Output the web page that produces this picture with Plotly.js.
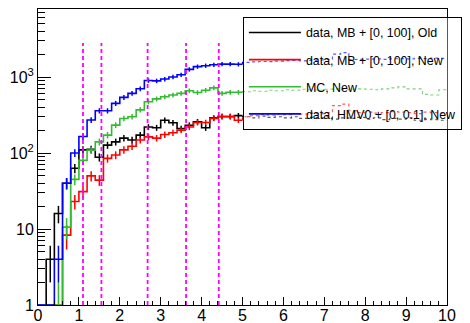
<!DOCTYPE html>
<html><head><meta charset="utf-8">
<script src="https://cdn.plot.ly/plotly-3.0.1.min.js"></script>
<style>html,body{margin:0;padding:0;background:#fff}#chart{width:470px;height:323px}</style>
</head><body><div id="chart"></div>
<script>
// histogram binning: 50 bins of width 0.2 from 0 to 10
const binStart = 0;
const binWidth = 0.2;
const seriesNames = [
  "data, MB + [0, 100], Old",
  "data, MB + [0, 100], New",
  "MC, New",
  "data, HMV0 + [0, 0.1], New"
];
const oldMB = [0,4,16,40,63,110,112,88,127,140,157,148,172,220,215,270,250,210,232,258,215,290,300,300,310,
  300,290,305,295,300,290,300,285,295,290,300,280,290,285,295,280,290,275,285,280,290,270,280,275,270];
const newMB = [0,0,0,8.3,23,31,50,44,85,94,110,123,148,163,157,175,185,200,220,252,252,286,305,305,270,
  300,310,320,315,325,320,330,325,335,330,340,420,440,360,340,345,335,340,350,345,340,330,345,340,335];
const mcNew = [0,0,1,10.6,45,80,109,140,172,233,285,300,370,473,515,550,580,610,660,625,670,720,610,630,630,
  640,660,650,670,660,680,670,690,680,670,690,700,680,690,700,690,680,700,720,740,700,700,590,580,680];
const hmv0New = [0,0,4,40,100,165,272,360,360,450,540,610,700,900,890,940,1000,1070,1260,1370,1410,1450,1480,1480,1470,
  1560,1580,1600,1590,1620,1640,1650,1630,1660,1680,1700,2000,2100,1700,1710,1720,1730,1710,1740,1750,1730,1760,1750,1770,1760];
const seriesColors = ["#000000", "#ff0000", "#33bb33", "#0000ff"];
const cutLines = [1.1, 1.55, 2.68, 3.62, 4.42];
const cutLineTop = 2800;
const legendStartX = 5.0; // region under the legend box drawn dotted
const yTickVals = [1, 10, 100, 1000];
const yTickText = ["1", "10", "10<sup>2</sup>", "10<sup>3</sup>"];

const allSeries = [oldMB, newMB, mcNew, hmv0New];
const nBins = oldMB.length;
const edge = i => +(binStart + i * binWidth).toFixed(6);
const shown = v => Math.max(v, 1);   // empty bins are drawn on the axis floor
const splitBin = Math.round((legendStartX - binStart) / binWidth);

const traces = [];
allSeries.forEach((vals, s) => {
  const col = seriesColors[s];
  const xs = [], ys = [];
  for (let i = 0; i < splitBin; i++) { xs.push(edge(i)); ys.push(shown(vals[i])); }
  xs.push(edge(splitBin)); ys.push(shown(vals[splitBin - 1]));
  traces.push({x: xs, y: ys, type: "scatter", mode: "lines", line: {shape: "hv", color: col, width: 1.6},
    name: seriesNames[s], legendgroup: "g" + s, hoverinfo: "skip"});
  const cx = [], cy = [], ce = [];
  for (let i = 0; i < splitBin; i++) {
    const v = vals[i];
    cx.push(edge(i) + binWidth / 2);
    cy.push(v > 0 ? v : null);
    ce.push(v > 0 ? Math.sqrt(v + Math.pow(0.06 * v, 2)) : 0);
  }
  traces.push({x: cx, y: cy, type: "scatter", mode: "markers", marker: {size: 1, color: "rgba(0,0,0,0)"},
    error_y: {type: "data", array: ce, color: col, thickness: 1.5, width: 0},
    showlegend: false, hoverinfo: "skip"});
  const dx = [edge(splitBin)], dy = [shown(vals[splitBin - 1])];
  for (let i = splitBin; i < nBins; i++) { dx.push(edge(i)); dy.push(shown(vals[i])); }
  dx.push(edge(nBins)); dy.push(shown(vals[nBins - 1]));
  traces.push({x: dx, y: dy, type: "scatter", mode: "lines", line: {shape: "hv", color: col, width: 1.2, dash: "dot"},
    showlegend: false, hoverinfo: "skip"});
});
cutLines.forEach(c => {
  traces.push({x: [c, c], y: [1, cutLineTop], type: "scatter", mode: "lines",
    line: {color: "#ff00ff", width: 1.8, dash: "4px,3px"}, showlegend: false, hoverinfo: "skip"});
});

const yMinor = [];
for (let d = 1; d <= 1000; d *= 10) for (let k = 2; k <= 9; k++) yMinor.push(k * d);

const layout = {
  width: 470, height: 323,
  margin: {l: 38, r: 23, t: 9, b: 18, pad: 0, autoexpand: false},
  paper_bgcolor: "#ffffff", plot_bgcolor: "#ffffff",
  font: {family: "Liberation Sans, Arial, sans-serif", color: "#000"},
  showlegend: true,
  legend: {x: 0.501, y: 0.973, xanchor: "left", yanchor: "top",
    bgcolor: "rgba(255,255,255,0.35)", bordercolor: "#000", borderwidth: 1,
    font: {size: 12.4, family: "Liberation Sans, Arial, sans-serif"},
    itemwidth: 52, tracegroupgap: 8, traceorder: "grouped",
    entrywidth: 240, entrywidthmode: "pixels"},
  xaxis: {type: "linear", range: [0, 10], showgrid: false, zeroline: false,
    showline: true, linecolor: "#000", linewidth: 1, mirror: true,
    ticks: "inside", ticklen: 8, tickcolor: "#000", tickwidth: 1, dtick: 1, tick0: 0,
    ticklabelstandoff: -4, automargin: false,
    minor: {ticks: "inside", ticklen: 4, dtick: 0.2, tick0: 0, tickcolor: "#000", showgrid: false},
    tickfont: {size: 16}},
  yaxis: {type: "log", range: [0, 3.895], showgrid: false, zeroline: false,
    showline: true, linecolor: "#000", linewidth: 1, mirror: true, automargin: false,
    ticks: "inside", ticklen: 13, tickcolor: "#000", tickwidth: 1,
    tickmode: "array", tickvals: yTickVals, ticktext: yTickText,
    minor: {ticks: "inside", ticklen: 7, tickmode: "array", tickvals: yMinor, tickcolor: "#000", showgrid: false},
    tickfont: {size: 16}}
};
Plotly.newPlot("chart", traces, layout, {staticPlot: true, displayModeBar: false});
</script></body></html>
